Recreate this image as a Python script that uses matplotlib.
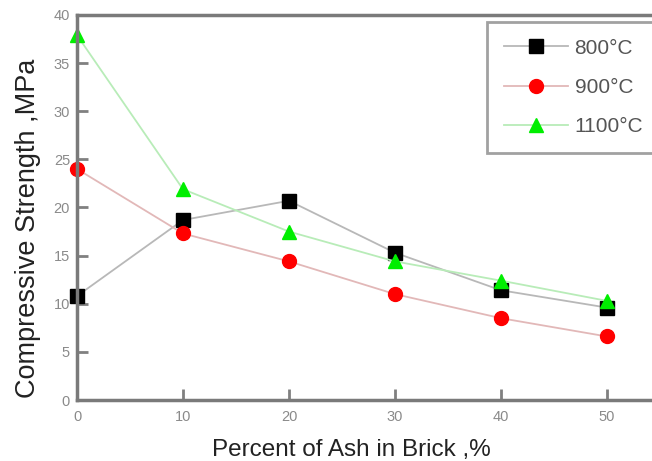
import matplotlib
matplotlib.use("Agg")
import matplotlib.pyplot as plt

plt.rcParams['font.family'] = ['Liberation Sans', 'DejaVu Sans']

ash = [0, 10, 20, 30, 40, 50]
s800 = [10.8, 18.7, 20.7, 15.3, 11.4, 9.6]
s900 = [24.0, 17.3, 14.4, 11.0, 8.5, 6.6]
s1100 = [37.9, 21.9, 17.5, 14.4, 12.4, 10.3]
labels = ['800°C', '900°C', '1100°C']
xticks = [0, 10, 20, 30, 40, 50]
yticks = [0, 5, 10, 15, 20, 25, 30, 35, 40]

fig = plt.figure(figsize=(6.52, 4.61), dpi=100)
ax = fig.add_axes([77/652, 61/461, 575/652, 385/461])

ax.plot(ash, s800, color='#b8b8b8', lw=1.3, marker='s', ms=9.5,
        mfc='black', mec='black', label=labels[0])
ax.plot(ash, s900, color='#e2b8b8', lw=1.3, marker='o', ms=10,
        mfc='#ff0000', mec='#ff0000', label=labels[1])
ax.plot(ash, s1100, color='#b8ecb8', lw=1.3, marker='^', ms=10.5,
        mfc='#00ee00', mec='#00ee00', label=labels[2])

ax.set_xlim(0, 54.25)
ax.set_ylim(0, 40)
ax.set_xticks(xticks)
ax.set_yticks(yticks)
ax.set_xticklabels([str(v) for v in xticks])
ax.set_yticklabels([str(v) for v in yticks])
for line in ax.lines:
    line.set_clip_on(False)

for side in ['left', 'bottom', 'top']:
    ax.spines[side].set_color('#7a7a7a')
    ax.spines[side].set_linewidth(2.5)
ax.spines['right'].set_visible(False)

ax.tick_params(axis='both', direction='in', length=8, width=2,
               color='#808080', labelcolor='#8a8a8a', labelsize=10.5)
ax.tick_params(axis='x', pad=7)
ax.tick_params(axis='y', pad=5)

ax.set_xlabel('Percent of Ash in Brick ,%', fontsize=17.5, color='#222222')
ax.xaxis.set_label_coords(0.478, -(450 - 400) / 385, transform=ax.transAxes)
ax.xaxis.label.set_verticalalignment('center')
ax.set_ylabel('Compressive Strength ,MPa', fontsize=19.5, color='#222222')
ax.yaxis.set_label_coords(-(77 - 28) / 575, (400 - 228) / 385, transform=ax.transAxes)
ax.yaxis.label.set_verticalalignment('center')

leg = fig.legend(loc='upper left', bbox_to_anchor=(487/652, 1 - 22/461),
                 fontsize=15, frameon=True, fancybox=False, handlelength=3.1,
                 handletextpad=0.3, labelspacing=0.97, borderpad=0.8,
                 borderaxespad=0)
leg.get_frame().set_edgecolor('#8a8a8a')
leg.get_frame().set_linewidth(2)
for t in leg.get_texts():
    t.set_color('#555555')

fig.savefig('out.png', dpi=100)
